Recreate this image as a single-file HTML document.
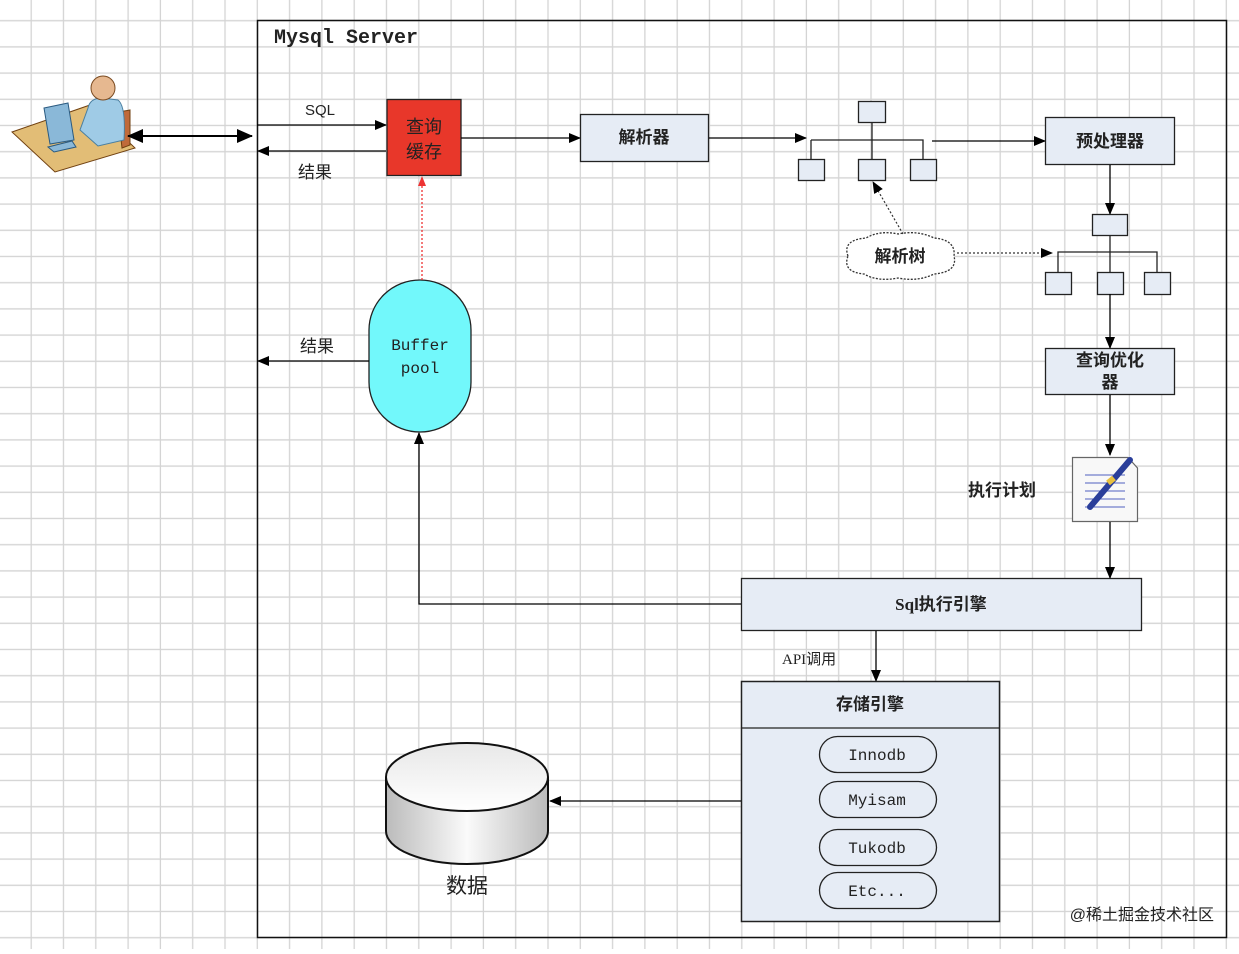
<!DOCTYPE html>
<html><head><meta charset="utf-8"><style>
html,body{margin:0;padding:0;background:#fff;}
svg text{font-family:"Liberation Serif","Noto Sans CJK SC",sans-serif;fill:#222;}
.m{font-family:"Liberation Mono","Noto Sans CJK SC",monospace;}
.c{font-family:"Liberation Sans","Noto Sans CJK SC",sans-serif;}
</style></head><body>
<svg width="1239" height="949" viewBox="0 0 1239 949" xmlns="http://www.w3.org/2000/svg">
<defs>
<pattern id="g" x="0" y="0" width="32.3" height="26.2" patternUnits="userSpaceOnUse">
<line x1="31.2" y1="0" x2="31.2" y2="26.2" stroke="#d4d4d4" stroke-width="1.3"/>
<line x1="0" y1="20.7" x2="32.3" y2="20.7" stroke="#d4d4d4" stroke-width="1.3"/>
</pattern>
<marker id="a" markerWidth="12" markerHeight="10" refX="11" refY="5" orient="auto" markerUnits="userSpaceOnUse"><path d="M0,0 L12,5 L0,10 Z" fill="#000"/></marker>
<marker id="ar" markerWidth="10" markerHeight="8" refX="9" refY="4" orient="auto" markerUnits="userSpaceOnUse"><path d="M0,0 L10,4 L0,8 Z" fill="#e33"/></marker>
<marker id="as" markerWidth="16" markerHeight="14" refX="15" refY="7" orient="auto-start-reverse" markerUnits="userSpaceOnUse"><path d="M0,0 L16,7 L0,14 Z" fill="#000"/></marker>
<linearGradient id="cy" x1="0" x2="1"><stop offset="0" stop-color="#bbb"/><stop offset="0.5" stop-color="#fafafa"/><stop offset="1" stop-color="#bbb"/></linearGradient>
<linearGradient id="ct" x1="0" y1="0" x2="0" y2="1"><stop offset="0" stop-color="#e8e8e8"/><stop offset="1" stop-color="#fff"/></linearGradient>
</defs>
<rect width="1239" height="949" fill="#fff"/>
<rect width="1239" height="949" fill="url(#g)"/>
<rect x="257.5" y="20.5" width="969" height="917" fill="none" stroke="#111" stroke-width="1.5"/>
<text x="274" y="43" class="m" font-size="20" font-weight="bold" fill="#222">Mysql Server</text>

<!-- person -->
<g stroke="#704010" stroke-width="1">
<path d="M12,132 L90,105 L135,148 L55,172 Z" fill="#e2bd76"/>
<path d="M118,112 L130,110 L130,145 L122,148 Z" fill="#c06a3a"/>
</g>
<path d="M88,108 Q90,98 102,98 L118,100 Q126,106 124,140 L98,146 L80,130 Z" fill="#9fcbe6" stroke="#4a7fa0"/>
<circle cx="103" cy="88" r="12" fill="#e6b890" stroke="#7a4a20"/>
<path d="M44,108 L68,103 L74,140 L50,144 Z" fill="#8ab8d8" stroke="#2a5a80"/>
<path d="M48,147 L72,141 L76,147 L54,152 Z" fill="#8ab8d8" stroke="#2a5a80"/>
<line x1="128" y1="136" x2="252" y2="136" stroke="#000" stroke-width="2" marker-start="url(#as)" marker-end="url(#as)"/>

<!-- SQL / result -->
<line x1="257" y1="125" x2="386" y2="125" stroke="#000" stroke-width="1.3" marker-end="url(#a)"/>
<text x="305" y="115" class="c" font-size="15">SQL</text>
<line x1="386" y1="151" x2="258" y2="151" stroke="#000" stroke-width="1.3" marker-end="url(#a)"/>
<text x="298" y="178" font-size="17">结果</text>
<rect x="387" y="99.5" width="74" height="76" fill="#e8372a" stroke="#222" stroke-width="1.3"/>
<text x="424" y="133" font-size="18" text-anchor="middle" fill="#222">查询</text>
<text x="424" y="158" font-size="18" text-anchor="middle" fill="#222">缓存</text>

<line x1="461" y1="138" x2="580" y2="138" stroke="#000" stroke-width="1.3" marker-end="url(#a)"/>
<rect x="580.5" y="114.5" width="128" height="47" fill="#e6ecf5" stroke="#222" stroke-width="1.3"/>
<text x="644" y="143" font-size="17" font-weight="bold" text-anchor="middle">解析器</text>
<line x1="709" y1="138" x2="806" y2="138" stroke="#000" stroke-width="1.3" marker-end="url(#a)"/>

<!-- tree1 -->
<g stroke="#222" stroke-width="1.3" fill="#e6ecf5">
<rect x="858.5" y="101.5" width="27" height="21"/>
<path d="M872,122 V159 M811,140 H923 V159 M811,140 V159" fill="none"/>
<rect x="798.5" y="159.5" width="26" height="21"/>
<rect x="858.5" y="159.5" width="27" height="21"/>
<rect x="910.5" y="159.5" width="26" height="21"/>
</g>
<line x1="932" y1="141" x2="1045" y2="141" stroke="#000" stroke-width="1.3" marker-end="url(#a)"/>
<rect x="1045.5" y="117.5" width="129" height="47" fill="#e6ecf5" stroke="#222" stroke-width="1.3"/>
<text x="1110" y="147" font-size="17" font-weight="bold" text-anchor="middle">预处理器</text>
<line x1="1110" y1="165" x2="1110" y2="214" stroke="#000" stroke-width="1.3" marker-end="url(#a)"/>

<!-- tree2 -->
<g stroke="#222" stroke-width="1.3" fill="#e6ecf5">
<rect x="1092.5" y="214.5" width="35" height="21"/>
<path d="M1110,235 V272 M1058,272 V252 H1157 V272" fill="none"/>
<rect x="1045.5" y="272.5" width="26" height="22"/>
<rect x="1097.5" y="272.5" width="26" height="22"/>
<rect x="1144.5" y="272.5" width="26" height="22"/>
</g>
<line x1="1110" y1="294" x2="1110" y2="348" stroke="#000" stroke-width="1.3" marker-end="url(#a)"/>

<!-- cloud -->
<path d="M848,256 Q842,240 866,238 Q880,230 898,234 Q918,230 934,238 Q956,240 954,256 Q958,272 934,274 Q918,282 898,278 Q878,282 864,274 Q842,272 848,256 Z" fill="#fff" stroke="#333" stroke-width="1.3" stroke-dasharray="2,1.5"/>
<text x="900" y="262" font-size="17" font-weight="bold" text-anchor="middle">解析树</text>
<line x1="903" y1="234" x2="873" y2="182" stroke="#333" stroke-width="1.2" stroke-dasharray="2,2" marker-end="url(#a)"/>
<line x1="957" y1="253" x2="1052" y2="253" stroke="#333" stroke-width="1.2" stroke-dasharray="2,2" marker-end="url(#a)"/>

<rect x="1045.5" y="348.5" width="129" height="46" fill="#e6ecf5" stroke="#222" stroke-width="1.3"/>
<text x="1110" y="366" font-size="17" font-weight="bold" text-anchor="middle">查询优化</text>
<text x="1110" y="388" font-size="17" font-weight="bold" text-anchor="middle">器</text>
<line x1="1110" y1="395" x2="1110" y2="455" stroke="#000" stroke-width="1.3" marker-end="url(#a)"/>

<!-- doc -->
<path d="M1072.5,457.5 H1128 L1137.5,468 V521.5 H1072.5 Z" fill="#f8f8f8" stroke="#666" stroke-width="1.2"/>
<g stroke="#5060c0" stroke-width="1"><line x1="1085" y1="475" x2="1125" y2="475"/><line x1="1085" y1="483" x2="1125" y2="483"/><line x1="1085" y1="491" x2="1125" y2="491"/><line x1="1085" y1="499" x2="1125" y2="499"/><line x1="1085" y1="507" x2="1125" y2="507"/></g>
<line x1="1090" y1="507" x2="1130" y2="460" stroke="#2a3e9a" stroke-width="6" stroke-linecap="round"/>
<line x1="1108" y1="483" x2="1114" y2="478" stroke="#e8c040" stroke-width="6"/>
<text x="968" y="496" font-size="17" font-weight="bold">执行计划</text>
<line x1="1110" y1="522" x2="1110" y2="578" stroke="#000" stroke-width="1.3" marker-end="url(#a)"/>

<rect x="741.5" y="578.5" width="400" height="52" fill="#e6ecf5" stroke="#222" stroke-width="1.3"/>
<text x="941" y="610" font-size="17" font-weight="bold" text-anchor="middle">Sql执行引擎</text>
<path d="M741,604 H419 V433" fill="none" stroke="#000" stroke-width="1.3" marker-end="url(#a)"/>

<!-- buffer pool -->
<path d="M369,330 A51,50 0 0 1 471,330 V382 A51,50 0 0 1 369,382 Z" fill="#72f8fb" stroke="#222" stroke-width="1.3"/>
<text x="420" y="350" class="m" font-size="16" text-anchor="middle" fill="#2a6a7a">Buffer</text>
<text x="420" y="373" class="m" font-size="16" text-anchor="middle" fill="#2a6a7a">pool</text>
<line x1="422" y1="280" x2="422" y2="177" stroke="#e33" stroke-width="1.3" stroke-dasharray="2,2" marker-end="url(#ar)"/>
<line x1="369" y1="361" x2="258" y2="361" stroke="#000" stroke-width="1.3" marker-end="url(#a)"/>
<text x="300" y="352" font-size="17">结果</text>

<line x1="876" y1="631" x2="876" y2="681" stroke="#000" stroke-width="1.3" marker-end="url(#a)"/>
<text x="782" y="664" font-size="15">API调用</text>

<!-- storage -->
<rect x="741.5" y="681.5" width="258" height="240" fill="#e6ecf5" stroke="#222" stroke-width="1.5"/>
<line x1="741" y1="728" x2="1000" y2="728" stroke="#222" stroke-width="1.3"/>
<text x="870" y="710" font-size="17" font-weight="bold" text-anchor="middle">存储引擎</text>
<g fill="none" stroke="#222" stroke-width="1.3">
<rect x="819.5" y="736.5" width="117" height="36" rx="18"/>
<rect x="819.5" y="781.5" width="117" height="36" rx="18"/>
<rect x="819.5" y="829.5" width="117" height="36" rx="18"/>
<rect x="819.5" y="872.5" width="117" height="36" rx="18"/>
</g>
<g class="m" font-size="16" text-anchor="middle">
<text x="877" y="760" class="m">Innodb</text>
<text x="877" y="805" class="m">Myisam</text>
<text x="877" y="853" class="m">Tukodb</text>
<text x="877" y="896" class="m">Etc...</text>
</g>
<line x1="741" y1="801" x2="550" y2="801" stroke="#000" stroke-width="1.3" marker-end="url(#a)"/>

<!-- cylinder -->
<path d="M386,777 V831 A81,33 0 0 0 548,831 V777" fill="url(#cy)" stroke="#111" stroke-width="2"/>
<ellipse cx="467" cy="777" rx="81" ry="34" fill="url(#ct)" stroke="#111" stroke-width="2"/>
<text x="467" y="893" font-size="21" text-anchor="middle" fill="#333">数据</text>

<text x="1214" y="920" class="c" font-size="16" text-anchor="end" fill="#c4c4c4">@稀土掘金技术社区</text>
</svg>
</body></html>
